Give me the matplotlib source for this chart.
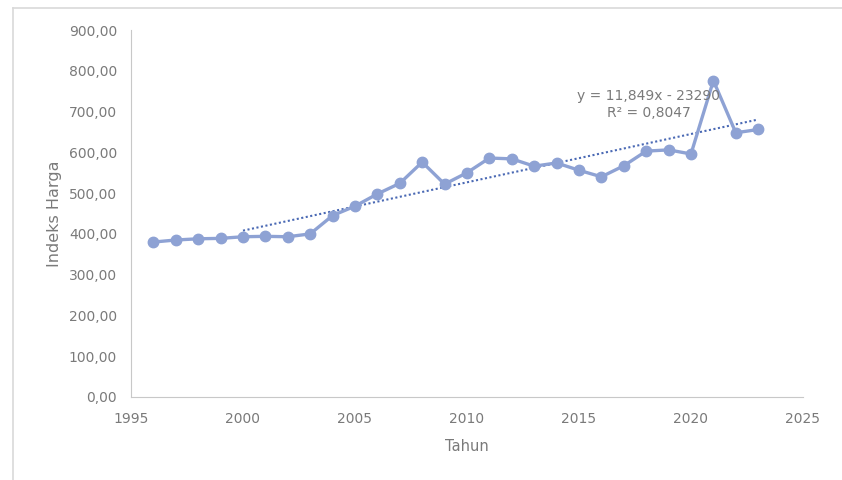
import matplotlib.pyplot as plt
from matplotlib.lines import Line2D
import numpy as np

tahun = [1996, 1997, 1998, 1999, 2000, 2001, 2002, 2003, 2004, 2005,
         2006, 2007, 2008, 2009, 2010, 2011, 2012, 2013, 2014, 2015,
         2016, 2017, 2018, 2019, 2020, 2021, 2022, 2023]
indeks = [380, 385, 388, 389, 393, 394, 393, 400, 445, 468,
          498, 524, 576, 522, 550, 586, 584, 566, 574, 556,
          540, 567, 603, 606, 596, 776, 648, 656]

# trendline as printed on the chart
slope = 11.849
intercept = -23290
trend_start, trend_end = 2000, 2023

plt.rcParams['font.family'] = ['DejaVu Sans']
grey = '#7a7a7a'

fig = plt.figure(figsize=(8.42, 4.80), dpi=100)
ax = fig.add_axes([131 / 842, 1 - 397 / 480, 672 / 842, 367 / 480])

# chart area border (cropped screenshot: only top and left edges show)
fig.add_artist(Line2D([13 / 842, 1], [1 - 8 / 480] * 2, transform=fig.transFigure,
                      color='#d9d9d9', linewidth=1.2))
fig.add_artist(Line2D([13 / 842] * 2, [0, 1 - 8 / 480], transform=fig.transFigure,
                      color='#d9d9d9', linewidth=1.2))

col = '#8ea2d4'
ax.plot(tahun, indeks, color=col, linewidth=2.4, marker='o',
        markersize=7.5, markerfacecolor=col, markeredgecolor=col, zorder=3)

tx = np.array([trend_start, trend_end])
ax.plot(tx, slope * tx + intercept, color='#4a69b4', linestyle=(0, (1, 1.2)),
        linewidth=1.5, zorder=2)

ax.text(2018.1, 738, 'y = 11,849x - 23290', ha='center', va='center',
        fontsize=10, color=grey, zorder=4)
ax.text(2018.1, 696, 'R² = 0,8047', ha='center', va='center',
        fontsize=10, color=grey, zorder=4)

ax.set_xlim(1995, 2025)
ax.set_ylim(0, 900)
ax.set_xticks(range(1995, 2026, 5))
ax.set_yticks(range(0, 901, 100))
ax.set_yticklabels([f'{v},00' for v in range(0, 901, 100)])
ax.tick_params(length=0, labelsize=10, colors=grey)
ax.tick_params(axis='y', pad=10)
ax.tick_params(axis='x', pad=11)

for s in ['top', 'right']:
    ax.spines[s].set_visible(False)
ax.spines['left'].set_color('#c8c8c8')
ax.spines['bottom'].set_color('#c8c8c8')

ax.set_xlabel('Tahun', fontsize=10.5, color=grey, labelpad=9)
ax.set_ylabel('Indeks Harga', fontsize=11.5, color=grey, labelpad=5)

fig.savefig('out.png', dpi=100)
